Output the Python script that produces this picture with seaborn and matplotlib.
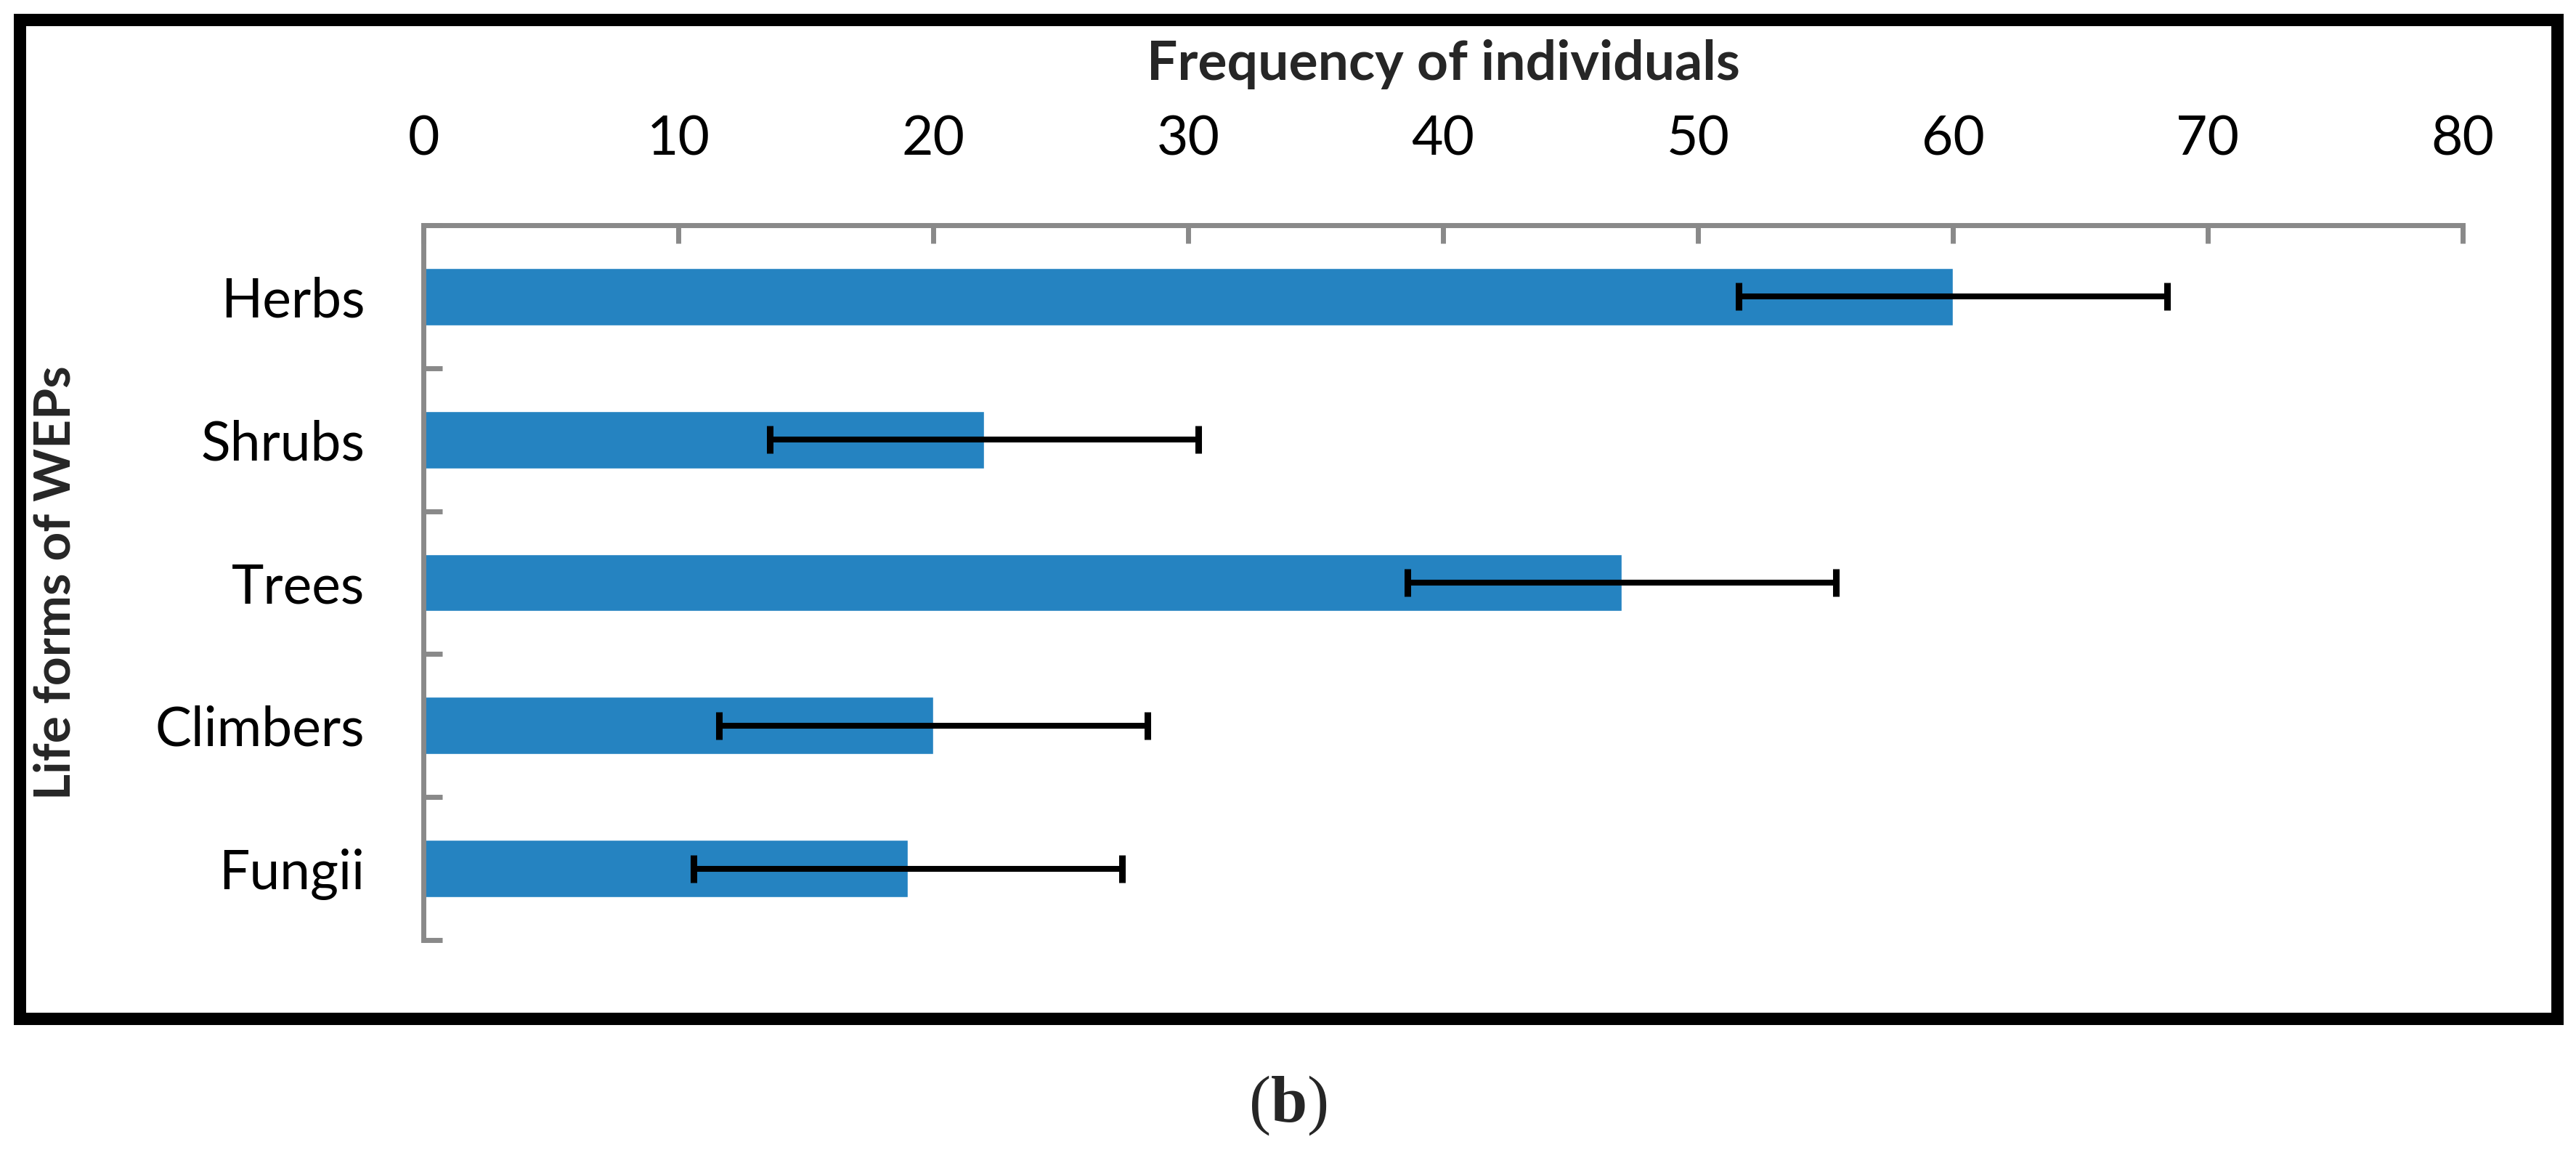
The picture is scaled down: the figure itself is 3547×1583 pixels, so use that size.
import matplotlib
matplotlib.use("Agg")
import matplotlib.pyplot as plt
import seaborn as sns
import pandas as pd
from matplotlib.patches import Rectangle
from matplotlib.ticker import FixedLocator

life_forms = ["Herbs", "Shrubs", "Trees", "Climbers", "Fungii"]
frequency = [60, 22, 47, 20, 19]
error = [8.4, 8.4, 8.4, 8.4, 8.4]
x_ticks = [0, 10, 20, 30, 40, 50, 60, 70, 80]

df = pd.DataFrame({"life_form": life_forms, "frequency": frequency, "error": error})

sns.set_style("white")
plt.rcParams["font.family"] = ["Lato", "DejaVu Sans"]
plt.rcParams["mathtext.fontset"] = "custom"
plt.rcParams["mathtext.rm"] = "Liberation Serif"
plt.rcParams["mathtext.bf"] = "Liberation Serif:bold"

W, H = 3547, 1583
fig = plt.figure(figsize=(W / 100, H / 100), dpi=100)
ax = fig.add_axes([583 / W, 1 - 1294 / H, (3391 - 583) / W, (1294 - 310) / H])

sns.barplot(data=df, x="frequency", y="life_form", order=life_forms,
            color="#2583C1", saturation=1, width=0.4, orient="h",
            errorbar=None, ax=ax)
ax.errorbar(df["frequency"], range(len(df)), xerr=df["error"], fmt="none",
            ecolor="black", elinewidth=5.8, capsize=13.7, capthick=6.5)

grey = "#898989"
for s in ["bottom", "right"]:
    ax.spines[s].set_visible(False)
for s in ["top", "left"]:
    ax.spines[s].set_color(grey)
    ax.spines[s].set_linewidth(5)

ax.set_xlim(0, 80)
ax.set_ylim(4.5, -0.5)
ax.set_xticks(x_ticks)
ax.xaxis.tick_top()
ax.xaxis.set_label_position("top")
ax.tick_params(axis="x", top=True, bottom=False, labeltop=True, labelbottom=False,
               direction="in", length=18, width=5, color=grey, pad=60,
               labelsize=54, labelcolor="black")
ax.tick_params(axis="y", which="major", left=False, length=0, pad=58,
               labelsize=54, labelcolor="black")
ax.yaxis.set_minor_locator(FixedLocator([i - 0.5 for i in range(len(life_forms) + 1)]))
ax.tick_params(axis="y", which="minor", left=True, direction="in",
               length=19, width=5, color=grey)

ax.set_xlabel("Frequency of individuals", fontsize=54, fontweight="bold", labelpad=34)
ax.set_ylabel("Life forms of WEPs", fontsize=50, fontweight="bold")
ax.yaxis.set_label_coords(-0.169, 0.5)

fig.patches.append(Rectangle((27 / W, 1 - 1402 / H), (3521 - 27) / W, (1402 - 27) / H,
                             transform=fig.transFigure, fill=False, lw=12.2,
                             ec="black", zorder=10))
fig.text(0.5, 1 - 1522 / H, r"($\mathbf{b}$)", fontsize=65, family="Liberation Serif",
         ha="center", va="center")

fig.savefig("out.png", dpi=100)
